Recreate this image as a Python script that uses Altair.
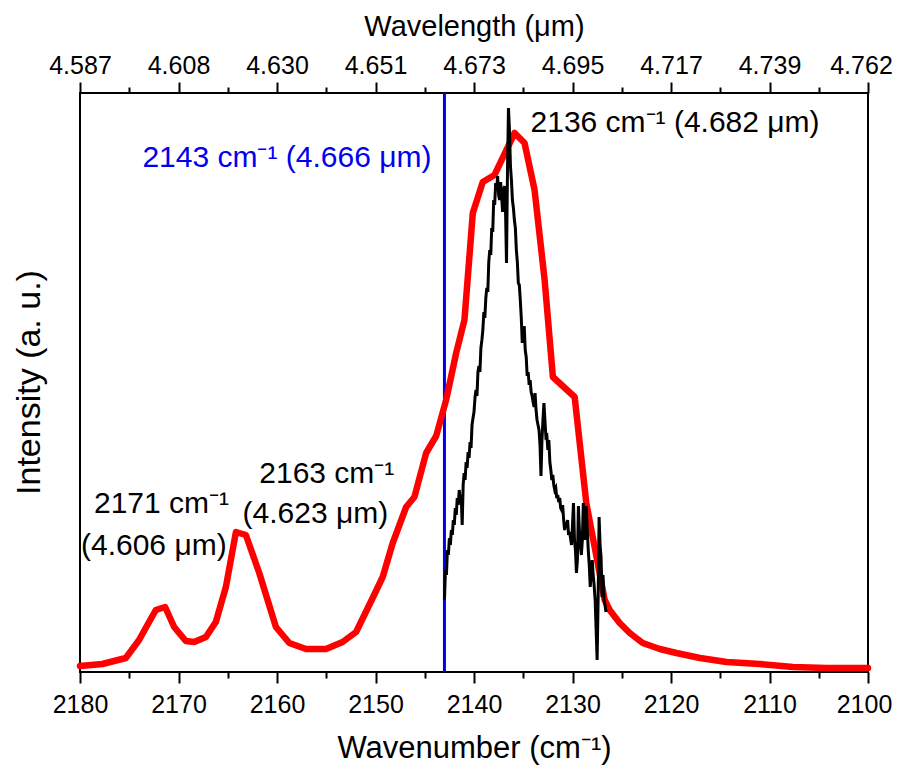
import altair as alt
import pandas as pd

# ---------------- data ----------------
# red (broad) spectrum: wavenumber (cm-1) and intensity (a.u.)
red_wn = [2180.0, 2177.73, 2175.35, 2174.0, 2173.16, 2172.30, 2171.36, 2170.44,
          2169.26, 2168.41, 2167.22, 2166.21, 2165.19, 2164.17, 2163.16, 2161.80,
          2160.11, 2158.75, 2157.06, 2155.02, 2153.34, 2151.97, 2150.29, 2149.27,
          2148.25, 2146.89, 2146.05, 2144.86, 2143.84, 2142.83, 2141.81, 2140.97,
          2140.12, 2139.11, 2137.92, 2135.88, 2134.87, 2133.85, 2132.83, 2131.99,
          2129.78, 2128.60, 2126.73, 2126.23, 2125.21, 2124.19, 2122.87, 2121.14,
          2119.45, 2117.05, 2114.36, 2110.98, 2107.62, 2104.20, 2100.0]
red_int = [6, 8, 14, 32, 47, 62, 65, 45,
           31, 30, 35, 50, 85, 140, 137, 99,
           45, 29, 23, 23, 30, 40, 74, 95,
           129, 165, 175, 219, 236, 272, 319, 352,
           459, 490, 497, 539, 529, 482, 392, 295,
           275, 169, 72, 62, 49, 39, 29, 23,
           19, 14, 10, 8, 5, 4, 4]

# black (measured, noisy) spectrum
black_wn = [
    2143.0, 2142.9, 2142.8, 2142.7, 2142.6, 2142.5, 2142.4, 2142.3, 2142.2, 2142.1,
    2142.0, 2141.9, 2141.8, 2141.7, 2141.6, 2141.5, 2141.4, 2141.3, 2141.2, 2141.1,
    2141.0, 2140.9, 2140.8, 2140.7, 2140.6, 2140.5, 2140.4, 2140.3, 2140.2, 2140.1,
    2140.0, 2139.9, 2139.8, 2139.7, 2139.6, 2139.5, 2139.4, 2139.3, 2139.2, 2139.1,
    2139.0, 2138.9, 2138.8, 2138.7, 2138.6, 2138.5, 2138.4, 2138.3, 2138.2, 2138.1,
    2138.0, 2137.9, 2137.8, 2137.7, 2137.6, 2137.5, 2137.4, 2137.3, 2137.2, 2137.1,
    2137.0, 2136.9, 2136.8, 2136.7, 2136.6, 2136.5, 2136.4, 2136.3, 2136.2, 2136.1,
    2136.0, 2135.9, 2135.8, 2135.7, 2135.6, 2135.5, 2135.4, 2135.3, 2135.2, 2135.1,
    2135.0, 2134.9, 2134.8, 2134.7, 2134.6, 2134.5, 2134.4, 2134.3, 2134.2, 2134.1,
    2134.0, 2133.9, 2133.8, 2133.7, 2133.6, 2133.5, 2133.4, 2133.3, 2133.2, 2133.1,
    2133.0, 2132.9, 2132.8, 2132.7, 2132.6, 2132.5, 2132.4, 2132.3, 2132.2, 2132.1,
    2132.0, 2131.9, 2131.8, 2131.7, 2131.6, 2131.5, 2131.4, 2131.3, 2131.2, 2131.1,
    2131.0, 2130.9, 2130.8, 2130.7, 2130.6, 2130.5, 2130.4, 2130.3, 2130.2, 2130.1,
    2130.0, 2129.9, 2129.8, 2129.7, 2129.6, 2129.5, 2129.4, 2129.3, 2129.2, 2129.1,
    2129.0, 2128.9, 2128.8, 2128.7, 2128.6, 2128.5, 2128.4, 2128.3, 2128.2, 2128.1,
    2128.0, 2127.9, 2127.8, 2127.7, 2127.6, 2127.5, 2127.4, 2127.3, 2127.2, 2127.1,
    2127.0, 2126.9, 2126.8, 2126.7, 2126.6]
black_int = [
    72, 102, 97, 122, 117, 134, 127, 142, 137, 152,
    147, 164, 157, 174, 167, 182, 172, 177, 147, 187,
    199, 192, 210, 204, 220, 214, 230, 224, 247, 254,
    260, 274, 282, 276, 300, 306, 300, 324, 332, 342,
    360, 354, 374, 384, 380, 410, 422, 417, 444, 440,
    472, 467, 489, 482, 496, 477, 472, 490, 477, 460,
    482, 486, 462, 409, 502, 564, 542, 506, 492, 472,
    464, 452, 444, 422, 410, 389, 387, 372, 354, 329,
    342, 346, 322, 315, 296, 300, 287, 292, 280, 276,
    270, 265, 279, 262, 252, 247, 242, 227, 196, 232,
    252, 269, 252, 235, 236, 222, 232, 210, 202, 192,
    197, 187, 182, 184, 174, 177, 170, 174, 164, 162,
    167, 152, 142, 150, 144, 152, 137, 140, 134, 127,
    147, 169, 132, 122, 99, 112, 166, 142, 127, 117,
    132, 169, 152, 132, 166, 142, 122, 107, 85, 99,
    112, 97, 86, 72, 42, 12, 72, 155, 127, 115,
    75, 97, 72, 67, 60]

# vertical marker
marker_wn = [2143]

# axis ticks
tick_values = [2180, 2175, 2170, 2165, 2160, 2155, 2150, 2145, 2140,
               2135, 2130, 2125, 2120, 2115, 2110, 2105, 2100]
major_ticks = [2180, 2170, 2160, 2150, 2140, 2130, 2120, 2110, 2100]
top_labels = ["4.587", "4.608", "4.630", "4.651", "4.673",
              "4.695", "4.717", "4.739", "4.762"]

# annotations
ann_wn = [2134.26, 2161.8, 2163.5, 2178.58, 2179.9]
ann_int = [540, 189, 149, 159, 117]
ann_text = ["2136 cm\u207b\u00b9 (4.682 \u03bcm)", "2163 cm\u207b\u00b9", "(4.623 \u03bcm)",
            "2171 cm\u207b\u00b9", "(4.606 \u03bcm)"]
blue_ann_wn = [2144.32]
blue_ann_int = [505]
blue_ann_text = ["2143 cm\u207b\u00b9 (4.666 \u03bcm)"]
y_title = ["Intensity (a. u.)"]

# ---------------- chart ----------------
FONT = "Liberation Sans"
red_df = pd.DataFrame({"wn": red_wn, "I": red_int})
black_df = pd.DataFrame({"wn": black_wn, "I": black_int})
marker_df = pd.DataFrame({"wn": marker_wn})
ann_df = pd.DataFrame({"wn": ann_wn, "I": ann_int, "t": ann_text})
blue_df = pd.DataFrame({"wn": blue_ann_wn, "I": blue_ann_int, "t": blue_ann_text})
ytitle_df = pd.DataFrame({"t": y_title})

x_scale = alt.Scale(domain=[2100, 2180], reverse=True, nice=False, zero=False)
y_scale = alt.Scale(domain=[0, 579], nice=False, zero=False)

major_test = "indexof(" + str(major_ticks) + ", datum.value) >= 0"
tick_size = {"condition": {"test": major_test, "value": 11}, "value": 6}
last_test = "datum.value == " + str(major_ticks[-1])

bottom_axis = alt.Axis(
    orient="bottom", values=tick_values, format="d", grid=False,
    labelExpr=major_test + " ? datum.label : ''",
    tickSize=tick_size, tickColor="black", tickWidth=2, domain=False,
    labelFontSize=25, labelFont=FONT, labelColor="black", labelPadding=9,
    labelOffset={"condition": {"test": last_test, "value": -4}, "value": 0},
    labelFlush=False, labelOverlap=False,
    title="Wavenumber (cm\u207b\u00b9)", titleFontSize=31, titleFont=FONT,
    titleFontWeight="normal", titleColor="black",
    titleBaseline="alphabetic", titleY=85, titleX=394, titleAlign="center",
)
top_axis = alt.Axis(
    orient="top", values=tick_values, grid=False,
    labelExpr=(major_test + " ? " + str(top_labels) + "[indexof(" + str(major_ticks)
               + ", datum.value)] : ''"),
    tickSize=tick_size, tickColor="black", tickWidth=2, domain=False,
    labelFontSize=25, labelFont=FONT, labelColor="black", labelPadding=4,
    labelOffset={"condition": {"test": last_test, "value": -7}, "value": 0},
    labelFlush=False, labelOverlap=False,
    title="Wavelength (\u03bcm)", titleFontSize=29, titleFont=FONT,
    titleFontWeight="normal", titleColor="black",
    titleBaseline="alphabetic", titleY=-58, titleX=394, titleAlign="center",
)

marker = alt.Chart(marker_df).mark_rule(color="#0000f0", strokeWidth=3).encode(
    x=alt.X("wn:Q", scale=x_scale, axis=top_axis),
)
red = alt.Chart(red_df).mark_line(
    color="#ff0000", strokeWidth=6.5, strokeJoin="round", strokeCap="round"
).encode(
    x=alt.X("wn:Q", scale=x_scale, axis=bottom_axis),
    y=alt.Y("I:Q", scale=y_scale, axis=None),
)
black = alt.Chart(black_df).mark_line(color="black", strokeWidth=3).encode(
    x=alt.X("wn:Q", scale=x_scale, axis=None),
    y=alt.Y("I:Q", scale=y_scale, axis=None),
)
labels = alt.Chart(ann_df).mark_text(
    align="left", baseline="alphabetic", fontSize=30, font=FONT, color="black"
).encode(
    x=alt.X("wn:Q", scale=x_scale, axis=None),
    y=alt.Y("I:Q", scale=y_scale, axis=None),
    text="t:N",
)
blue_label = alt.Chart(blue_df).mark_text(
    align="right", baseline="alphabetic", fontSize=30, font=FONT, color="#0000f0"
).encode(
    x=alt.X("wn:Q", scale=x_scale, axis=None),
    y=alt.Y("I:Q", scale=y_scale, axis=None),
    text="t:N",
)
ytitle = alt.Chart(ytitle_df).mark_text(
    angle=270, align="center", baseline="alphabetic", fontSize=34, font=FONT,
    color="black",
).encode(
    x=alt.value(-40),
    y=alt.value(289.5),
    text="t:N",
)

chart = alt.layer(marker, red, black, labels, blue_label, ytitle).resolve_axis(
    x="independent"
).properties(
    width=788, height=579,
    autosize=alt.AutoSizeParams(type="none"),
    padding={"left": 72, "top": 85, "right": 25, "bottom": 93},
    background="white",
).configure_view(stroke="black", strokeWidth=2)

chart.save("out.html", embed_options={"renderer": "svg", "actions": False})
